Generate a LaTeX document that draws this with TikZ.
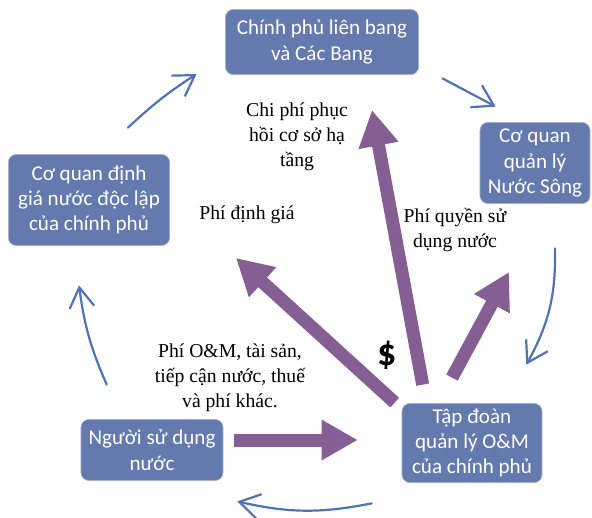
\documentclass[tikz,border=0pt]{standalone}
\usepackage{fontspec}
\setmainfont{Liberation Serif}
\newfontfamily\boxfont{Carlito}
\usetikzlibrary{positioning,arrows.meta}

\definecolor{boxblue}{HTML}{6479AD}
\definecolor{feepurple}{HTML}{855E94}
\definecolor{flowblue}{HTML}{5272B6}

\begin{document}
\begin{tikzpicture}[x=0.025cm,y=-0.025cm,
		agency/.style={
			draw=boxblue!55!white,
			fill=boxblue,
			rounded corners=0.2cm,
			align=center,
			text=white,
			inner sep=2pt,
			font=\boxfont\fontsize{15}{18}\selectfont},
		fee/.style={
			draw=feepurple,
			line width=0.325cm,
			-{Triangle[length=0.9cm,width=0.95cm]}},
		flow/.style={
			draw=flowblue,
			line width=0.055cm,
			line cap=round,
			-{Straight Barb[length=0.5cm,width=0.62cm]}},
		feetext/.style={
			align=center,
			font=\fontsize{14}{17.8}\selectfont}]
	
	\fill[white] (0,0) rectangle (592,518);
	\useasboundingbox (0,0) rectangle (592,518);
	
	\node[agency, minimum width=4.83cm, minimum height=1.63cm] (fed) at (322,42) {Chính phủ liên bang\\và Các Bang};
	
	\node[agency, minimum width=2.75cm, minimum height=2.03cm] (river) at (535,163) {Cơ quan\\quản lý\\Nước Sông};
	
	\node[agency, minimum width=4.03cm, minimum height=2.28cm] (pricing) at (89,200) {Cơ quan định\\giá nước độc lập\\của chính phủ};
	
	\node[agency, minimum width=3.55cm, minimum height=1.53cm] (user) at (152,450) {Người sử dụng\\nước};
	
	\node[agency, minimum width=3.5cm, minimum height=1.98cm] (om) at (472,443) {Tập đoàn\\quản lý O\&M\\của chính phủ};
	
	% fee labels
	\node[feetext] (costtext) at (297,137) {Chi phí phục\\hồi cơ sở hạ\\tầng};
	\node[feetext] (pricetext) at (247,215) {Phí định giá};
	\node[feetext] (righttext) at (455,230) {Phí quyền sử\\dụng nước};
	\node[feetext] (omtext) at (230,378) {Phí O\&M, tài sản,\\tiếp cận nước, thuế\\và phí khác.};
	\node[font=\boxfont\bfseries\fontsize{27}{27}\selectfont] (dollar) at (387,355) {\$};
	
	\coordinate (tipcost) at (372,110);
	\coordinate (tipprice) at (236,258);
	\coordinate (tipright) at (509,272);
	
	% money flows
	\draw[fee] ([shift={(21,-18.5)}]om.north west) -- (tipcost);
	\draw[fee] ([shift={(-7,-0.5)}]om.north west) -- (tipprice);
	\draw[fee] ([shift={(-20,-25.5)}]om.north) -- (tipright);
	\draw[fee] ([shift={(11,-10)}]user.east) -- ([shift={(-44,-3)}]om.west);
	
	% outer cycle
	\draw[flow] ([shift={(26,-34.5)}]user.north west) to[bend left=8] ([shift={(-10,39.5)}]pricing.south);
	\draw[flow] ([shift={(39,-26.5)}]pricing.north) to[bend left=5] ([shift={(-28.5,32)}]fed.west);
	\draw[flow] ([shift={(23.5,3.5)}]fed.south east) -- ([shift={(16,-15.5)}]river.north west);
	\draw[flow] ([shift={(20,44.5)}]river.south) to[bend left=15] ([shift={(-16,-38.5)}]om.north east);
	\draw[flow] ([shift={(-30,20.5)}]om.south west) to[bend left=12] ([shift={(14,20.5)}]user.south east);
	
\end{tikzpicture}
\end{document}
